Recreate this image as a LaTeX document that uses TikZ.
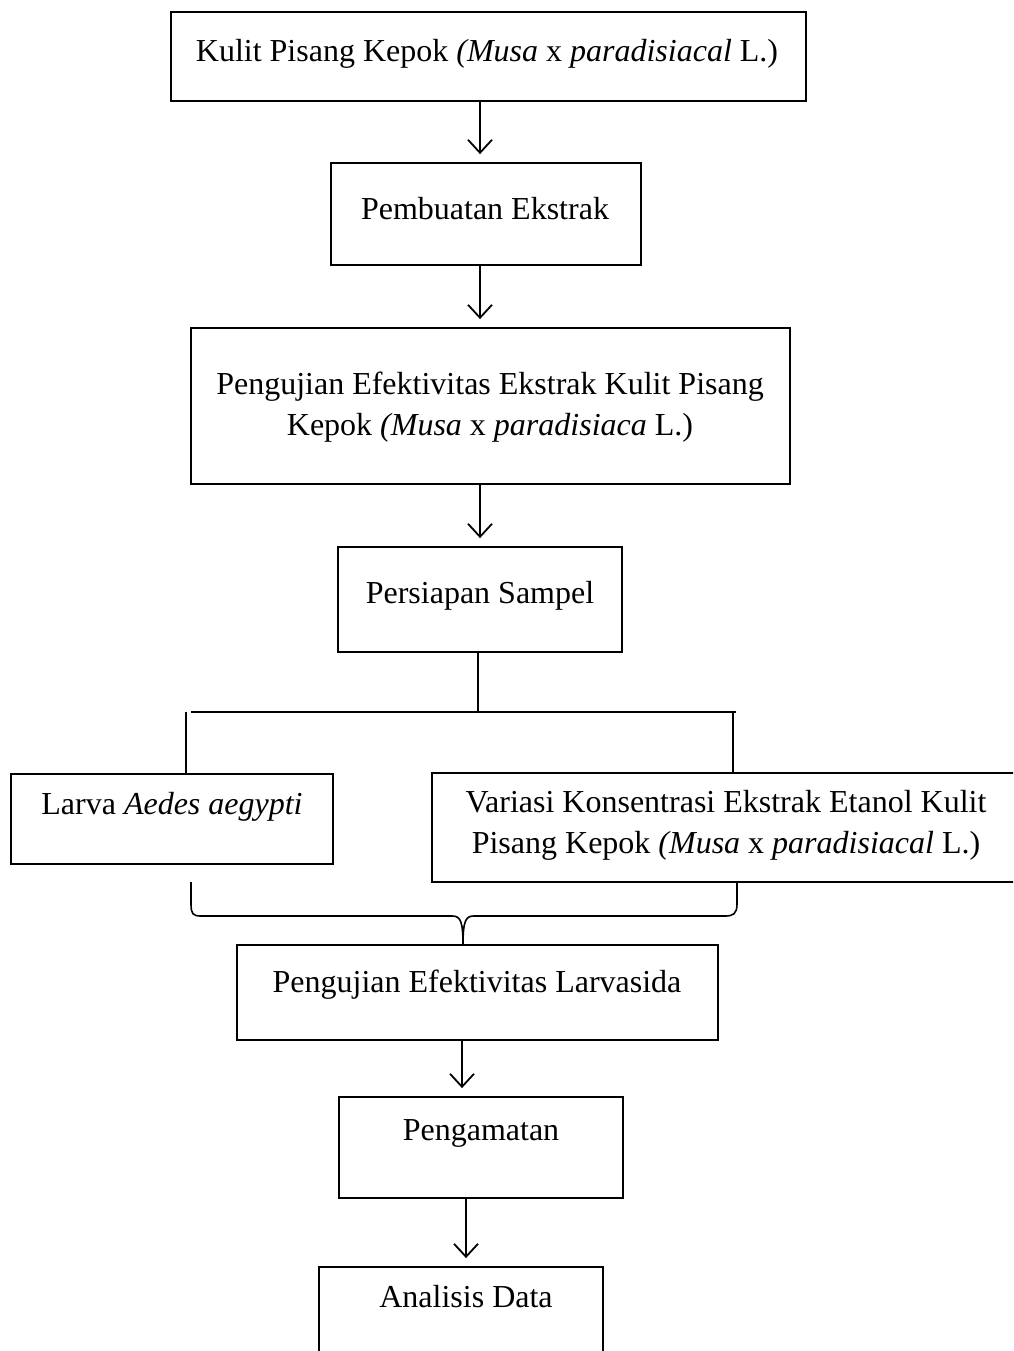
\documentclass[tikz,border=0pt]{standalone}
\usepackage{fontspec}
\setmainfont{Liberation Serif}
\usetikzlibrary{arrows.meta}
\begin{document}
\begin{tikzpicture}[x=1pt,y=-1pt,
  box/.style={draw,line width=1.8pt,minimum width=#1,inner sep=0pt},
  txt/.style={inner sep=0pt,align=center,font=\fontsize{32}{41}\selectfont},
  arr/.style={line width=1.8pt,-{Straight Barb[length=13pt,width=24pt,line width=1.8pt]},shorten >=8pt},
  ln/.style={line width=1.8pt}]
\useasboundingbox (0,0) rectangle (1013,1351);
\clip (0,0) rectangle (1013,1351);
\node[box=635pt,minimum height=89pt] (b1) at (488.5,56.5) {};
\node[box=310pt,minimum height=102pt] (b2) at (486,214) {};
\node[box=599pt,minimum height=156pt] (b3) at (490.5,406) {};
\node[box=284pt,minimum height=105pt] (b4) at (480,599.5) {};
\node[box=322pt,minimum height=90pt] (b5) at (172,819) {};
\node[box=598pt,minimum height=109pt] (b6) at (731,827.5) {};
\node[box=481pt,minimum height=95pt] (b7) at (477.5,992.5) {};
\node[box=284pt,minimum height=101pt] (b8) at (481,1147.5) {};
\node[box=284pt,minimum height=98pt] (b9) at (461,1316) {};
\node[txt,anchor=base] (t1) at (487,62) {Kulit Pisang Kepok \textit{(Musa} x \textit{paradisiacal} L.)};
\node[txt,anchor=base] (t2) at (485,219) {Pembuatan Ekstrak};
\node[txt] (t3) at (490,407) {Pengujian Efektivitas Ekstrak Kulit Pisang\\Kepok \textit{(Musa} x \textit{paradisiaca} L.)};
\node[txt,anchor=base] (t4) at (480,603) {Persiapan Sampel};
\node[txt,anchor=base] (t5) at (172,814) {Larva \textit{Aedes aegypti}};
\node[txt] (t6) at (726,825) {Variasi Konsentrasi Ekstrak Etanol Kulit\\Pisang Kepok \textit{(Musa} x \textit{paradisiacal} L.)};
\node[txt,anchor=base] (t7) at (477,992) {Pengujian Efektivitas Larvasida};
\node[txt,anchor=base] (t8) at (481,1140) {Pengamatan};
\node[txt,anchor=base] (t9) at (466,1307) {Analisis Data};
\coordinate (ax) at (480,0);
\coordinate (bx) at (462,0);
\coordinate (cx) at (466,0);
\draw[arr] (b1.south -| ax) -- (b2.north -| ax);
\draw[arr] (b2.south -| ax) -- (b3.north -| ax);
\draw[arr] (b3.south -| ax) -- (b4.north -| ax);
\coordinate (jc) at (478,712);
\coordinate (jl) at (191,712);
\coordinate (jr) at (736,712);
\coordinate (vl) at (186,712);
\coordinate (vr) at (733,712);
\draw[ln] (b4.south -| jc) -- (jc);
\draw[ln] (jl) -- (jr);
\draw[ln] (vl) -- (b5.north -| vl);
\draw[ln] (vr) -- (b6.north -| vr);
% brace
\coordinate (bl) at (191,882);
\coordinate (br) at (737,882);
\coordinate (bt) at (463,945);
\draw[ln,line width=1.6pt] (bl) -- (191,904) .. controls (191,914) and (193,916) .. (201,916)
  -- (452,916) .. controls (460,916) and (463,920) .. (bt)
  (bt) .. controls (463,920) and (466,916) .. (474,916) -- (725,916)
  .. controls (733,916) and (737,914) .. (737,904) -- (br);
\draw[arr] (b7.south -| bx) -- (b8.north -| bx);
\draw[arr] (b8.south -| cx) -- (b9.north -| cx);
\end{tikzpicture}
\end{document}
